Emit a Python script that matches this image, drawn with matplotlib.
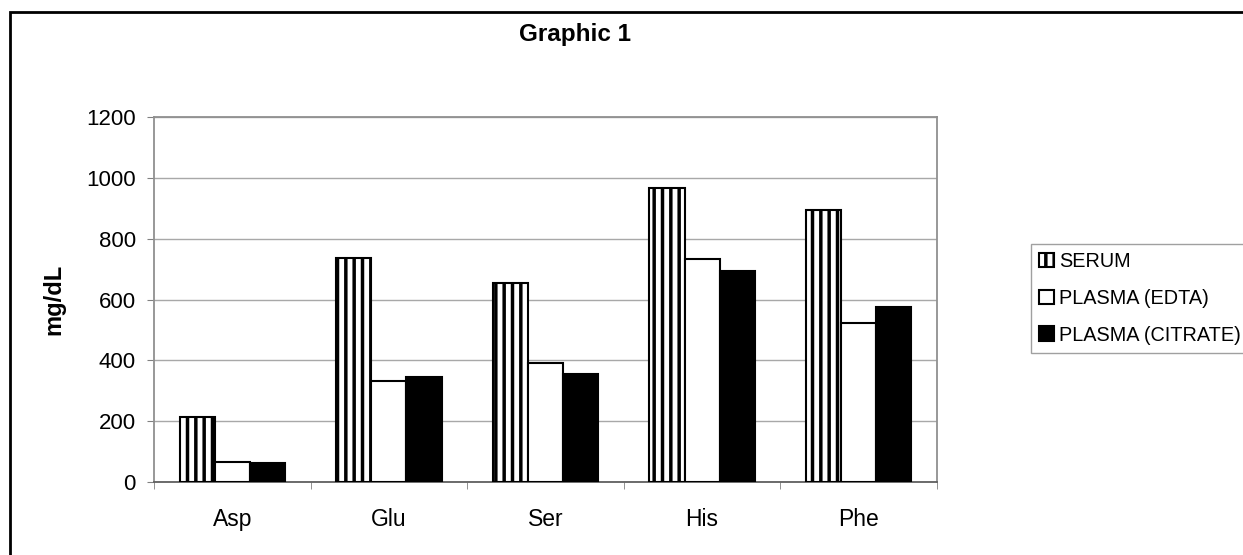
import matplotlib.pyplot as plt
import numpy as np
from matplotlib.patches import Rectangle

plt.rcParams['font.family'] = ['Liberation Sans', 'DejaVu Sans']
plt.rcParams['hatch.linewidth'] = 2.5

categories = ['Asp', 'Glu', 'Ser', 'His', 'Phe']
serum = [214, 736, 654, 966, 894]
plasma_edta = [66, 332, 391, 733, 523]
plasma_citrate = [62, 345, 355, 694, 575]

fig = plt.figure(figsize=(12.43, 5.55), dpi=100)
ax = fig.add_axes([0.1239, 0.1315, 0.7538 - 0.1239, 0.7892 - 0.1315])

x = np.arange(len(categories))
w = 0.224
ax.bar(x - w, serum, w, color='white', edgecolor='black', hatch='||',
       linewidth=1.5, label='SERUM', zorder=3)
ax.bar(x, plasma_edta, w, color='white', edgecolor='black',
       linewidth=1.5, label='PLASMA (EDTA)', zorder=3)
ax.bar(x + w, plasma_citrate, w, color='black', edgecolor='black',
       linewidth=1.5, label='PLASMA (CITRATE)', zorder=3)

ax.set_xlim(-0.5, 4.5)
ax.set_ylim(0, 1200)
ax.set_yticks(range(0, 1201, 200))
ax.tick_params(axis='y', labelsize=16, length=5, color='#808080', pad=8)
ax.set_xticks(x)
ax.set_xticklabels(categories, fontsize=16.5)
ax.tick_params(axis='x', length=0, pad=19)
ax.set_xticks(np.arange(-0.5, 5, 1), minor=True)
ax.tick_params(axis='x', which='minor', length=5, color='#808080')
ax.grid(axis='y', color='#a8a8a8', linewidth=1, zorder=0)

for s in ['left', 'right', 'top']:
    ax.spines[s].set_color('#909090')
    ax.spines[s].set_linewidth(1.3)
ax.spines['bottom'].set_color('#606060')
ax.spines['bottom'].set_linewidth(1.3)

ax.set_ylabel('mg/dL', fontsize=17, fontweight='bold', labelpad=15)
fig.text(575 / 1243, 1 - 34 / 555, 'Graphic 1', fontsize=17.5, fontweight='bold',
         ha='center', va='center')

leg = fig.legend(loc='upper left', bbox_to_anchor=(1031 / 1243, 1 - 244 / 555), fontsize=14.3,
                 handlelength=0.76, handleheight=0.76, handletextpad=0.25,
                 labelspacing=0.9, borderpad=0.4, borderaxespad=0,
                 fancybox=False, framealpha=1)
leg.get_frame().set_edgecolor('#a0a0a0')
leg.get_frame().set_linewidth(1)

fig.patches.append(Rectangle((10 / 1243, -0.05), 1.2, 1 - 12 / 555 + 0.05,
                             transform=fig.transFigure, fill=False,
                             edgecolor='black', linewidth=2))

fig.savefig('out.png', dpi=100)
